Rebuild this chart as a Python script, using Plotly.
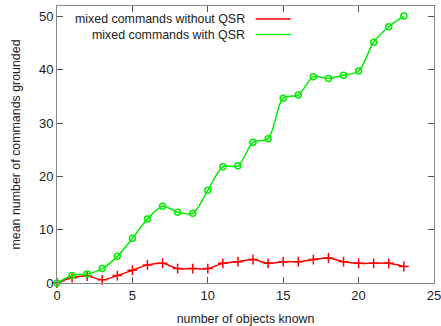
import plotly.graph_objects as go

x_objects = list(range(24))
without_qsr = [0, 1.0, 1.3, 0.6, 1.4, 2.4, 3.4, 3.7, 2.7, 2.7, 2.7, 3.7, 4.0, 4.4,
               3.7, 4.0, 4.0, 4.4, 4.7, 4.0, 3.7, 3.7, 3.7, 3.1]
with_qsr = [0, 1.4, 1.7, 2.7, 5.0, 8.4, 12.0, 14.4, 13.3, 13.1, 17.4, 21.8, 22.0, 26.4,
            27.1, 34.7, 35.3, 38.7, 38.4, 39.0, 39.8, 45.2, 48.1, 50.1]
series_names = ["mixed commands without QSR", "mixed commands with QSR"]
series_colors = ["#ff0000", "#00ee00"]
x_ticks = [0, 5, 10, 15, 20, 25]
y_ticks = [0, 10, 20, 30, 40, 50]

font = "Liberation Sans, Arial, sans-serif"
fsize = 13
lsize = 12.4

fig = go.Figure()
fig.add_trace(go.Scatter(
    x=x_objects, y=without_qsr, mode="lines+markers", name=series_names[0],
    line=dict(color=series_colors[0], width=1.5, shape="spline", smoothing=0.9),
    marker=dict(symbol="cross-thin", size=7, line=dict(color=series_colors[0], width=1.5)),
    showlegend=False, cliponaxis=False))
fig.add_trace(go.Scatter(
    x=x_objects, y=with_qsr, mode="lines+markers", name=series_names[1],
    line=dict(color=series_colors[1], width=1.5, shape="spline", smoothing=0.9),
    marker=dict(symbol="circle-open", size=6, line=dict(color=series_colors[1], width=1.5)),
    showlegend=False, cliponaxis=False))

# gnuplot-style legend: right-aligned text with line sample on the right
legend_rows = [(0.953, series_names[0], series_colors[0]),
               (0.897, series_names[1], series_colors[1])]
for yy, name, col in legend_rows:
    fig.add_annotation(xref="paper", yref="paper", x=0.505, y=yy, text=name,
                       showarrow=False, xanchor="right", yanchor="middle",
                       font=dict(family=font, size=lsize, color="#222"))
    fig.add_shape(type="line", xref="paper", yref="paper", x0=0.527, x1=0.62,
                  y0=yy, y1=yy, line=dict(color=col, width=1.5))

axis_common = dict(showgrid=False, zeroline=False, showline=True, linecolor="#888",
                   linewidth=1, mirror="allticks", ticks="inside", ticklen=6,
                   tickcolor="#555", tickwidth=1, automargin=False,
                   ticklabeloverflow="allow",
                   tickfont=dict(family=font, size=fsize, color="#222"))

fig.update_xaxes(range=[0, 25], tickvals=x_ticks,
                 title=dict(text="number of objects known", font=dict(family=font, size=lsize, color="#222")),
                 **axis_common)
fig.update_yaxes(range=[0, 52], tickvals=y_ticks,
                 title=dict(text="mean number of commands grounded", font=dict(family=font, size=lsize, color="#222")),
                 **axis_common)

fig.update_layout(width=441, height=326, margin=dict(l=57, r=7, t=6, b=43),
                  plot_bgcolor="white", paper_bgcolor="white")

fig.write_html("out.html", config={"displayModeBar": False},
               post_script="document.body.style.margin='0';document.body.style.overflow='hidden';")
